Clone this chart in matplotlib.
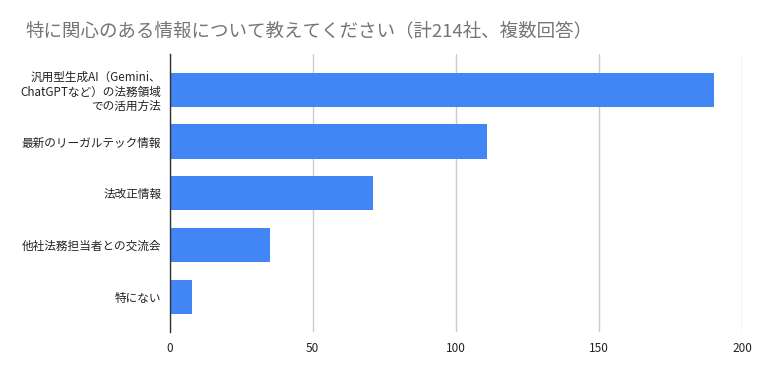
import matplotlib
matplotlib.use("Agg")
import matplotlib.pyplot as plt

plt.rcParams['font.family'] = ['Noto Sans CJK JP', 'DejaVu Sans']

title = "特に関心のある情報について教えてください（計214社、複数回答）"
categories = [
    "汎用型生成AI（Gemini、\nChatGPTなど）の法務領域\nでの活用方法",
    "最新のリーガルテック情報",
    "法改正情報",
    "他社法務担当者との交流会",
    "特にない",
]
values = [190, 111, 71, 35, 8]
xticks = [0, 50, 100, 150, 200]

fig = plt.figure(figsize=(7.61, 3.71), dpi=100)
ax = fig.add_axes([169.5 / 761, 1 - 332 / 371, (742.3 - 169.5) / 761, (332 - 54) / 371])

ypos = list(range(len(categories)))
ax.barh(ypos, values, height=0.66, color="#4285F4", zorder=3)
ax.set_ylim(4.68, -0.69)
ax.set_xlim(0, 200)
ax.set_xticks(xticks)
ax.set_xticklabels([str(t) for t in xticks])
ax.set_yticks(ypos)
ax.set_yticklabels(categories, fontsize=8.4, color="#222222", linespacing=1.15)
ax.tick_params(axis="y", length=0, pad=6)
ax.tick_params(axis="x", length=0, pad=7, labelsize=8.5, labelcolor="#222222")
ax.grid(axis="x", color="#cccccc", linewidth=1, zorder=0)
for s in ["top", "right", "bottom"]:
    ax.spines[s].set_visible(False)
ax.spines["left"].set_color("#333333")
ax.spines["left"].set_linewidth(1)
ax.spines["left"].set_zorder(4)

fig.text(25 / 761, 1 - 31 / 371, title, fontsize=13.3, color="#757575", va="center", ha="left")

fig.savefig("out.png", dpi=100)
